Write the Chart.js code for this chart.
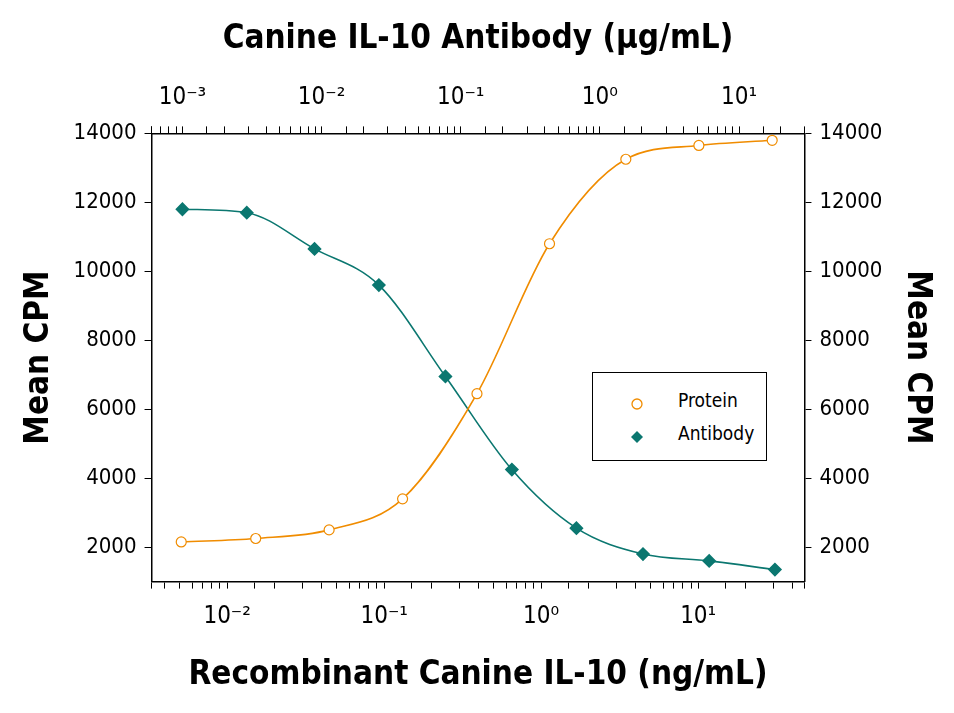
<!DOCTYPE html>
<html>
<head>
<script src="https://cdn.jsdelivr.net/npm/chart.js@4.4.0/dist/chart.umd.min.js"></script>
<style>
  body { margin: 0; background: #fff; }
  #wrap { position: relative; width: 954px; height: 713px; }
  #legend {
    position: absolute; left: 592px; top: 372px; width: 175px; height: 89px;
    border: 1px solid #000; background: #fff; box-sizing: border-box;
    font-family: "Liberation Sans Narrow", "DejaVu Sans Condensed", sans-serif; font-size: 19px;
  }
  #legend div { position: absolute; left: 85px; }
  #legend span { position: absolute; left: -48px; top: 4px; }
</style>
</head>
<body>
<div id="wrap">
  <canvas id="c" width="954" height="713"></canvas>
  <div id="legend">
    <div style="top:16px"><span><svg width="14" height="14"><circle cx="7" cy="7" r="5" fill="none" stroke="#f08c00" stroke-width="1.3"/></svg></span>Protein</div>
    <div style="top:49px"><span><svg width="14" height="14"><path d="M7 1 L13 7 L7 13 L1 7 Z" fill="#0b7770"/></svg></span>Antibody</div>
  </div>
</div>
<script>
"use strict";

// Recombinant Canine IL-10 (ng/mL), bottom axis
var proteinX = [0.0051, 0.0152, 0.0446, 0.131, 0.39, 1.13, 3.46, 10.1, 29.6];
var proteinY = [2150, 2250, 2500, 3400, 6450, 10800, 13250, 13650, 13800];

// Canine IL-10 Antibody (ug/mL), top axis
var antibodyX = [0.001, 0.0029, 0.0089, 0.0258, 0.0776, 0.233, 0.678, 2.04, 6.1, 18.1];
var antibodyY = [11800, 11700, 10650, 9600, 6950, 4250, 2550, 1800, 1600, 1350];

var yTicks = [2000, 4000, 6000, 8000, 10000, 12000, 14000];

var orange = "#f08c00";
var teal = "#0b7770";
var fontFam = '"Liberation Sans Narrow", "DejaVu Sans Condensed", sans-serif';

function pts(xs, ys) {
  return xs.map((x, i) => ({ x: x, y: ys[i] }));
}

var sup = { "-": "⁻", "0": "⁰", "1": "¹", "2": "²", "3": "³" };
function powLabel(v) {
  var e = Math.log10(v);
  if (Math.abs(e - Math.round(e)) > 1e-6) return "";
  return "10" + String(Math.round(e)).split("").map((c) => sup[c]).join("");
}

function logAxis(pos, min, max, title) {
  return {
    type: "logarithmic",
    position: pos,
    min: min,
    max: max,
    border: { color: "#000", width: 1.5 },
    grid: { drawOnChartArea: false, color: "#000", tickLength: 7 },
    ticks: {
      autoSkip: false,
      maxRotation: 0,
      color: "#000",
      font: { family: fontFam, size: 24 },
      padding: 14,
      callback: (v) => powLabel(v),
    },
    title: {
      display: true,
      text: title,
      color: "#000",
      font: { family: fontFam, size: 33, weight: "bold" },
      padding: { top: 10, bottom: 10 },
    },
  };
}

function yAxis(pos) {
  return {
    type: "linear",
    position: pos,
    min: 1000,
    max: 14000,
    afterBuildTicks: (ax) => { ax.ticks = yTicks.map((v) => ({ value: v })); },
    border: { color: "#000", width: 1.5 },
    grid: { drawOnChartArea: false, color: "#000", tickLength: 7 },
    ticks: {
      color: "#000",
      font: { family: fontFam, size: 22 },
      padding: 8,
      callback: (v) => String(v),
    },
    title: {
      display: true,
      text: "Mean CPM",
      color: "#000",
      font: { family: fontFam, size: 33, weight: "bold" },
      padding: 6,
    },
  };
}

new Chart(document.getElementById("c"), {
  type: "scatter",
  data: {
    datasets: [
      {
        label: "Protein",
        data: pts(proteinX, proteinY),
        xAxisID: "x",
        yAxisID: "y",
        showLine: true,
        cubicInterpolationMode: "monotone",
        borderColor: orange,
        borderWidth: 1.6,
        pointStyle: "circle",
        pointRadius: 5,
        pointBackgroundColor: "#fff",
        pointBorderColor: orange,
        pointBorderWidth: 1.2,
      },
      {
        label: "Antibody",
        data: pts(antibodyX, antibodyY),
        xAxisID: "x2",
        yAxisID: "y",
        showLine: true,
        cubicInterpolationMode: "monotone",
        borderColor: teal,
        borderWidth: 1.6,
        pointStyle: "rectRot",
        pointRadius: 6,
        pointBackgroundColor: teal,
        pointBorderColor: teal,
      },
    ],
  },
  options: {
    responsive: false,
    animation: false,
    layout: { padding: { left: 14, right: 12, top: 10, bottom: 8 } },
    plugins: { legend: { display: false }, tooltip: { enabled: false } },
    scales: {
      x: logAxis("bottom", 0.0033, 47.5, "Recombinant Canine IL-10 (ng/mL)"),
      x2: logAxis("top", 0.0006, 29.5, "Canine IL-10 Antibody (μg/mL)"),
      y: yAxis("left"),
      y2: yAxis("right"),
    },
  },
});
</script>
</body>
</html>
